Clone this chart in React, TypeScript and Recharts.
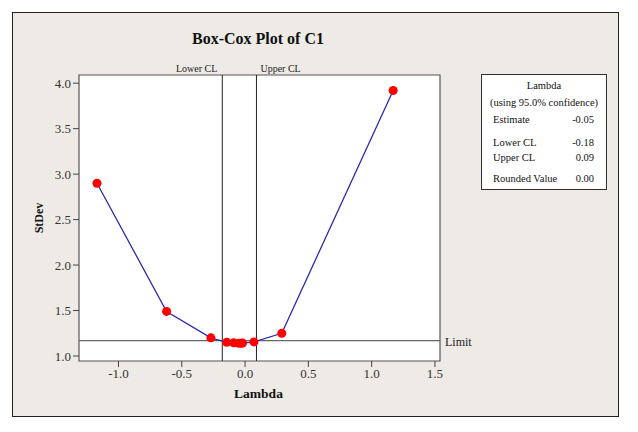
import { LineChart, Line, XAxis, YAxis, ReferenceLine, ReferenceArea } from 'recharts'

const lambdas = [-1.17, -0.62, -0.27, -0.145, -0.09, -0.05, -0.03, -0.02, 0.07, 0.29, 1.17]
const stdevs = [2.9, 1.49, 1.2, 1.15, 1.145, 1.14, 1.14, 1.142, 1.155, 1.25, 3.92]
const xTicks = [-1, -0.5, 0, 0.5, 1, 1.5]
const yTicks = [1, 1.5, 2, 2.5, 3, 3.5, 4]
const xDomain = [-1.312, 1.54]
const yDomain = [0.945, 4.09]
const lowerCL = -0.18
const upperCL = 0.09
const limit = 1.17
const legendLabels = ['Estimate', 'Lower CL', 'Upper CL', 'Rounded Value']
const legendValues = ['-0.05', '-0.18', '0.09', '0.00']

const serif = '"Liberation Serif", "Times New Roman", serif'

const data = lambdas.map((l, i) => ({ lambda: l, stdev: stdevs[i] }))

// row tops inside the legend box
const rowTops = [39, 62, 77, 98]

function LegendBox() {
  return (
    <div
      style={{
        position: 'absolute',
        left: 481,
        top: 74,
        width: 124,
        height: 114,
        background: '#fff',
        border: '1.5px solid #333',
        fontFamily: serif,
        fontSize: 10.5,
        lineHeight: '11px',
        color: '#111',
      }}
    >
      <div style={{ position: 'absolute', top: 5, width: '100%', textAlign: 'center' }}>Lambda</div>
      <div style={{ position: 'absolute', top: 22, width: '100%', textAlign: 'center' }}>
        (using 95.0% confidence)
      </div>
      {legendLabels.map((lab, i) => (
        <div key={lab}>
          <div style={{ position: 'absolute', top: rowTops[i], left: 11 }}>{lab}</div>
          <div style={{ position: 'absolute', top: rowTops[i], right: 12 }}>{legendValues[i]}</div>
        </div>
      ))}
    </div>
  )
}

export default function App() {
  return (
    <div style={{ position: 'absolute', left: 0, top: 0, width: 638, height: 432, background: '#fff' }}>
      <div
        style={{
          position: 'absolute',
          left: 12,
          top: 12,
          width: 605,
          height: 403,
          background: '#EEEBE6',
          border: '1.5px solid #222',
        }}
      />
      <div
        style={{
          position: 'absolute',
          left: 0,
          top: 30,
          width: 516,
          textAlign: 'center',
          fontFamily: serif,
          fontWeight: 'bold',
          fontSize: 16,
          color: '#111',
        }}
      >
        Box-Cox Plot of C1
      </div>
      <div style={{ position: 'absolute', left: 0, top: 0 }}>
        <LineChart
          width={638}
          height={432}
          data={data}
          margin={{ top: 75, right: 198, bottom: 31, left: 19 }}
        >
          <ReferenceArea
            x1={xDomain[0]}
            x2={xDomain[1]}
            y1={yDomain[0]}
            y2={yDomain[1]}
            fill="#fff"
            fillOpacity={1}
            stroke="#555"
            strokeWidth={1.2}
          />
          <XAxis
            type="number"
            dataKey="lambda"
            domain={xDomain}
            ticks={xTicks}
            allowDataOverflow
            height={40}
            axisLine={false}
            tickLine={{ stroke: '#444' }}
            tickSize={6}
            tick={{ fontFamily: serif, fontSize: 13, fill: '#333' }}
            tickFormatter={(v) => v.toFixed(1)}
            label={(p: any) => (
              <text
                x={p.viewBox.x + p.viewBox.width / 2 - 1}
                y={p.viewBox.y + 37}
                textAnchor="middle"
                fontFamily={serif}
                fontWeight="bold"
                fontSize={13.5}
                fill="#111"
              >
                Lambda
              </text>
            )}
          />
          <YAxis
            type="number"
            dataKey="stdev"
            domain={yDomain}
            ticks={yTicks}
            allowDataOverflow
            width={60}
            axisLine={false}
            tickLine={{ stroke: '#444' }}
            tickSize={6}
            tick={{ fontFamily: serif, fontSize: 13, fill: '#333' }}
            tickFormatter={(v) => v.toFixed(1)}
            label={(p: any) => (
              <text
                x={39}
                y={p.viewBox.y + p.viewBox.height / 2}
                transform={`rotate(-90 39 ${p.viewBox.y + p.viewBox.height / 2})`}
                textAnchor="middle"
                dominantBaseline="central"
                fontFamily={serif}
                fontWeight="bold"
                fontSize={12}
                fill="#111"
              >
                StDev
              </text>
            )}
          />
          <ReferenceLine
            x={lowerCL}
            stroke="#222"
            strokeWidth={1}
            label={(p: any) => (
              <text x={p.viewBox.x - 5} y={p.viewBox.y - 3} textAnchor="end" fontFamily={serif} fontSize={10} fill="#222">
                Lower CL
              </text>
            )}
          />
          <ReferenceLine
            x={upperCL}
            stroke="#222"
            strokeWidth={1}
            label={(p: any) => (
              <text x={p.viewBox.x + 4} y={p.viewBox.y - 3} textAnchor="start" fontFamily={serif} fontSize={10} fill="#222">
                Upper CL
              </text>
            )}
          />
          <ReferenceLine
            y={limit}
            stroke="#666"
            strokeWidth={1.2}
            label={(p: any) => (
              <text
                x={p.viewBox.x + p.viewBox.width + 5}
                y={p.viewBox.y + 5}
                textAnchor="start"
                fontFamily={serif}
                fontSize={12}
                fill="#222"
              >
                Limit
              </text>
            )}
          />
          <Line
            type="linear"
            dataKey="stdev"
            stroke="#2B2BB0"
            strokeWidth={1.3}
            dot={{ r: 4.5, fill: '#FF0000', stroke: '#FF0000', strokeWidth: 0 }}
            activeDot={false}
            isAnimationActive={false}
          />
        </LineChart>
      </div>
      <LegendBox />
    </div>
  )
}
